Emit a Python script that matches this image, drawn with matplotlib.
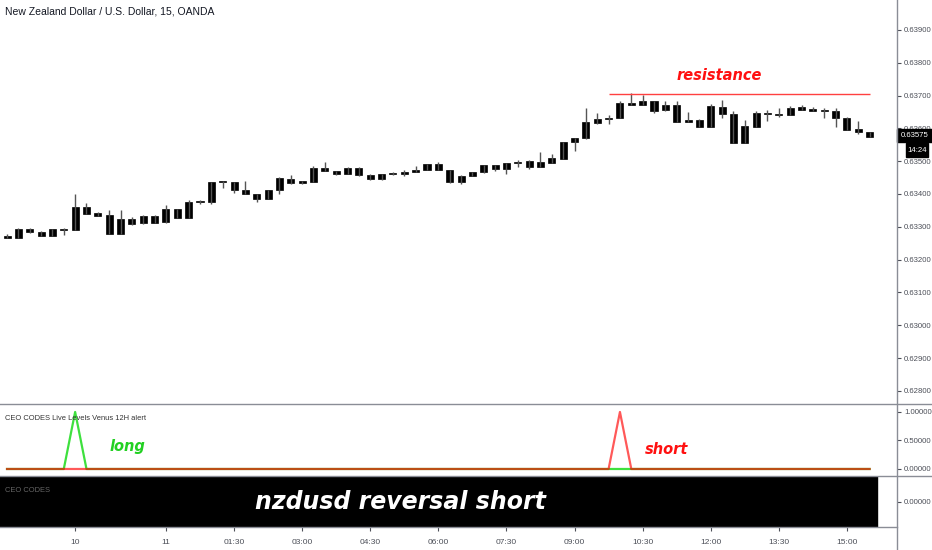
import numpy as np
import matplotlib.pyplot as plt
from matplotlib.lines import Line2D
from matplotlib.patches import Rectangle

# NZDUSD 15m candles
opens = [0.63273, 0.63267, 0.63294, 0.63285, 0.63272, 0.63292, 0.63290, 0.63360, 0.63342, 0.63335,
         0.63278, 0.63324, 0.63310, 0.63334, 0.63314, 0.63354, 0.63328, 0.63377, 0.63377, 0.63436,
         0.63436, 0.63412, 0.63400, 0.63385, 0.63412, 0.63447, 0.63432, 0.63437, 0.63479, 0.63470,
         0.63461, 0.63480, 0.63459, 0.63445, 0.63460, 0.63460, 0.63467, 0.63473, 0.63490, 0.63473,
         0.63435, 0.63456, 0.63466, 0.63487, 0.63476, 0.63495, 0.63482, 0.63482, 0.63494, 0.63508,
         0.63558, 0.63569, 0.63617, 0.63627, 0.63631, 0.63671, 0.63671, 0.63682, 0.63655, 0.63671,
         0.63620, 0.63626, 0.63604, 0.63666, 0.63643, 0.63555, 0.63604, 0.63644, 0.63642, 0.63642,
         0.63664, 0.63659, 0.63655, 0.63653, 0.63632, 0.63597, 0.63589]
highs = [0.63278, 0.63295, 0.63295, 0.63286, 0.63293, 0.63296, 0.63399, 0.63373, 0.63346, 0.63351,
         0.63351, 0.63330, 0.63335, 0.63335, 0.63366, 0.63355, 0.63381, 0.63382, 0.63437, 0.63439,
         0.63437, 0.63438, 0.63401, 0.63413, 0.63453, 0.63458, 0.63440, 0.63486, 0.63497, 0.63471,
         0.63481, 0.63481, 0.63460, 0.63461, 0.63467, 0.63473, 0.63486, 0.63491, 0.63497, 0.63474,
         0.63457, 0.63467, 0.63488, 0.63488, 0.63495, 0.63503, 0.63504, 0.63528, 0.63521, 0.63559,
         0.63571, 0.63661, 0.63648, 0.63642, 0.63684, 0.63707, 0.63702, 0.63683, 0.63682, 0.63682,
         0.63651, 0.63627, 0.63674, 0.63685, 0.63653, 0.63626, 0.63653, 0.63657, 0.63662, 0.63669,
         0.63671, 0.63665, 0.63661, 0.63661, 0.63633, 0.63621, 0.63590]
lows = [0.63265, 0.63266, 0.63281, 0.63271, 0.63271, 0.63276, 0.63289, 0.63339, 0.63332, 0.63277,
        0.63277, 0.63304, 0.63309, 0.63312, 0.63313, 0.63327, 0.63327, 0.63368, 0.63369, 0.63418,
        0.63402, 0.63399, 0.63377, 0.63384, 0.63401, 0.63430, 0.63431, 0.63436, 0.63470, 0.63459,
        0.63460, 0.63454, 0.63444, 0.63442, 0.63459, 0.63456, 0.63466, 0.63472, 0.63472, 0.63434,
        0.63429, 0.63455, 0.63465, 0.63470, 0.63460, 0.63483, 0.63476, 0.63481, 0.63493, 0.63507,
        0.63531, 0.63568, 0.63613, 0.63614, 0.63630, 0.63670, 0.63670, 0.63648, 0.63654, 0.63619,
        0.63619, 0.63603, 0.63603, 0.63630, 0.63554, 0.63554, 0.63603, 0.63622, 0.63634, 0.63641,
        0.63656, 0.63652, 0.63632, 0.63604, 0.63595, 0.63582, 0.63574]
closes = [0.63267, 0.63294, 0.63285, 0.63272, 0.63292, 0.63290, 0.63361, 0.63340, 0.63333, 0.63278,
          0.63325, 0.63309, 0.63334, 0.63313, 0.63354, 0.63328, 0.63377, 0.63378, 0.63436, 0.63437,
          0.63412, 0.63400, 0.63385, 0.63412, 0.63448, 0.63433, 0.63439, 0.63479, 0.63471, 0.63460,
          0.63480, 0.63459, 0.63445, 0.63460, 0.63461, 0.63468, 0.63473, 0.63490, 0.63473, 0.63435,
          0.63456, 0.63466, 0.63487, 0.63477, 0.63494, 0.63496, 0.63499, 0.63496, 0.63509, 0.63558,
          0.63570, 0.63618, 0.63627, 0.63630, 0.63677, 0.63677, 0.63682, 0.63654, 0.63671, 0.63620,
          0.63626, 0.63604, 0.63668, 0.63643, 0.63555, 0.63607, 0.63646, 0.63643, 0.63644, 0.63663,
          0.63657, 0.63653, 0.63654, 0.63631, 0.63596, 0.63588, 0.63575]

xtick_bars = [6, 14, 20, 26, 32, 38, 44, 50, 56, 62, 68, 74]
xtick_labels = ["10", "11", "01:30", "03:00", "04:30", "06:00", "07:30", "09:00",
                "10:30", "12:00", "13:30", "15:00"]
price_ticks = [0.628, 0.629, 0.630, 0.631, 0.632, 0.633, 0.634, 0.635, 0.636, 0.637, 0.638, 0.639]

resistance = 0.63704
res_from, res_to = 53, 76
long_bar = 6      # green spike
short_bar = 54    # red spike
last_price = "0.63575"
countdown = "14:24"

W, H = 932, 550
fig = plt.figure(figsize=(W / 100, H / 100), dpi=100)

def fx(p):
    return p / W

def fy(p):
    return 1 - p / H

small = ['Liberation Sans', 'DejaVu Sans']
grey = '#4c4f58'

ax = fig.add_axes([0, fy(404), fx(897), 404 / H])
ax2 = fig.add_axes([0, fy(476), fx(897), 72 / H], sharex=ax)
ax3 = fig.add_axes([0, fy(527), fx(897), 51 / H], sharex=ax)

n = len(opens)
idx = np.arange(n)
o = np.array(opens)
c = np.array(closes)
lo = np.minimum(o, c)
hh = np.maximum(np.abs(c - o), 0.00003)

ax.vlines(idx, lows, highs, color='#555555', lw=1)
ax.bar(idx, hh, bottom=lo, width=0.62, color='black', edgecolor='black', lw=0.5)
ax.hlines(resistance, res_from, res_to, color='#ff4040', lw=1)
ax.set_xlim(-0.62, 78.41)
ax.set_ylim(0.62760, 0.63991)
ax.yaxis.tick_right()
ax.set_yticks(price_ticks)
ax.set_yticklabels([f"{v:.5f}" for v in price_ticks])

# indicator panel
long_sig = np.zeros(n)
long_sig[long_bar] = 1.0
short_sig = np.zeros(n)
short_sig[short_bar] = 1.0
ax2.plot(idx, long_sig, color='#3ee03e', lw=1.6)
ax2.plot(idx, short_sig, color='#ff0000', lw=1.6, alpha=0.65)
ax2.set_ylim(-0.123, 1.14)
ax2.yaxis.tick_right()
ax2.set_yticks([0, 0.5, 1])
ax2.set_yticklabels(["0.00000", "0.50000", "1.00000"])

# black text box panel
ax3.add_patch(Rectangle((-0.62, -1), 77.27, 2, color='black'))
ax3.set_ylim(-1, 1)
ax3.yaxis.tick_right()
ax3.set_yticks([0])
ax3.set_yticklabels(["0.00000"])
ax3.set_xticks(xtick_bars)
ax3.set_xticklabels(xtick_labels)

for a in (ax, ax2, ax3):
    for s in a.spines.values():
        s.set_visible(False)
    a.tick_params(axis='y', length=3, color=grey, labelcolor=grey, labelsize=5.6, pad=2)
    for t in a.get_yticklabels():
        t.set_family(small)
for a in (ax, ax2):
    a.tick_params(axis='x', bottom=False, labelbottom=False)
ax3.tick_params(axis='x', length=3, color=grey, labelcolor=grey, labelsize=6, pad=6)
for t in ax3.get_xticklabels():
    t.set_family(small)

# separators and price scale line
sep = '#8a8d96'
for yy in (404, 476):
    fig.add_artist(Line2D([0, 1], [fy(yy), fy(yy)], color=sep, lw=1))
fig.add_artist(Line2D([0, fx(897)], [fy(527), fy(527)], color=sep, lw=1))
fig.add_artist(Line2D([fx(897), fx(897)], [0, 1], color=sep, lw=1))

# texts
fig.text(fx(5), fy(11), "New Zealand Dollar / U.S. Dollar, 15, OANDA", fontsize=7.5,
         family=small, color='#131722', va='center')
fig.text(fx(719), fy(76), "resistance", fontsize=10.5, color='#ff1010', weight='bold',
         style='italic', ha='center', va='center')
fig.text(fx(5), fy(418), "CEO CODES Live Levels Venus 12H alert", fontsize=5.4,
         family=small, color='#333333', va='center')
fig.text(fx(110), fy(447), "long", fontsize=10.5, color='#22d022', weight='bold',
         style='italic', va='center')
fig.text(fx(645), fy(450), "short", fontsize=10.5, color='#ff1010', weight='bold',
         style='italic', va='center')
fig.text(fx(5), fy(490), "CEO CODES", fontsize=5.4, family=small, color='#666666', va='center')
fig.text(fx(400), fy(502), "nzdusd reversal short", fontsize=17, color='white', weight='bold',
         style='italic', ha='center', va='center')

# last price and countdown tags
fig.add_artist(Rectangle((fx(897), fy(142)), fx(35), 13 / H, color='black'))
fig.text(fx(914.5), fy(135.5), last_price, fontsize=5.6, family=small, color='white',
         ha='center', va='center')
fig.add_artist(Rectangle((fx(906), fy(157)), fx(22), 14 / H, color='black'))
fig.text(fx(917), fy(150), countdown, fontsize=5.6, family=small, color='white',
         ha='center', va='center')

fig.savefig('out.png', dpi=100)
